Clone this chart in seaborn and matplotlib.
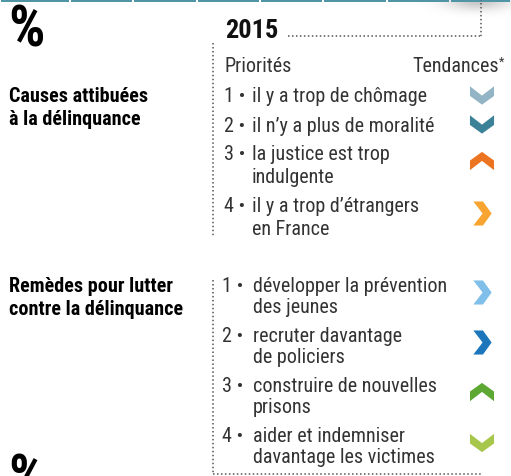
import numpy as np
import pandas as pd
import seaborn as sns
import matplotlib.pyplot as plt
from matplotlib import font_manager

# =========================
# DONNEES
# =========================
annee = "2015"

titre_causes = "Causes attibuées\nà la délinquance"
causes = ["il y a trop de chômage",
          "il n’y a plus de moralité",
          "la justice est trop\nindulgente",
          "il y a trop d’étrangers\nen France"]
tendances_causes = ["bas", "bas", "haut", "droite"]
couleurs_causes = ["#93b4c4", "#3b8298", "#ec7420", "#f8a431"]

titre_remedes = "Remèdes pour lutter\ncontre la délinquance"
remedes = ["développer la prévention\ndes jeunes",
           "recruter davantage\nde policiers",
           "construire de nouvelles\nprisons",
           "aider et indemniser\ndavantage les victimes"]
tendances_remedes = ["droite", "droite", "haut", "bas"]
couleurs_remedes = ["#80bfea", "#1c76bc", "#5ca833", "#a6c74b"]

# =========================
# STYLE / POLICE
# =========================
sns.set_style("white")

noms = {f.name for f in font_manager.fontManager.ttflist}
etroite = "Roboto Condensed" if "Roboto Condensed" in noms else "Liberation Sans"
plt.rcParams['font.family'] = [etroite, 'DejaVu Sans']

fig = plt.figure(figsize=(5.11, 4.77), dpi=100)
ax = fig.add_axes([0, 0, 1, 1])

texte = "#333333"
pointille = dict(color="#555555", linewidth=1.1, linestyle=(0, (1, 1.6)))

# ombre en haut a droite
gx, gy = np.meshgrid(np.linspace(400, 511, 120), np.linspace(0, 30, 40))
ombre = np.zeros(gx.shape + (4,))
ombre[..., 3] = 0.22 * np.exp(-((gx - 478) / 32) ** 2 - ((gy - 2) / 9) ** 2)
ax.imshow(ombre, extent=[400, 511, 30, 0], aspect='auto', zorder=0)

# bandeau du haut
coupures = [0, 70, 133, 197, 260, 323, 387, 450, 511]
for a, b in zip(coupures[:-1], coupures[1:]):
    ax.fill_between([a + 1, b - 1], 0, 2.5, color="#4f95a5", lw=0, zorder=1)

# =========================
# TEXTES FIXES
# =========================
ax.text(8, 31, "%", fontsize=41, fontweight='bold', va='center', color="black")
ax.text(8, 453, "%", fontsize=41, fontweight='bold', va='top', color="black")
ax.text(225, 31, annee, fontsize=19, fontweight='bold', va='center', color="#111111")
ax.text(225, 67, "Priorités", fontsize=14.5, va='center', color=texte)
ax.text(499, 67, "Tendances", fontsize=14.5, va='center', ha='right', color=texte)
ax.text(499, 62, "*", fontsize=9, va='center', ha='left', color=texte)

ax.text(9, 108, titre_causes, fontsize=14.5, fontweight='bold', va='center',
        color="black", linespacing=1.25)
ax.text(9, 298, titre_remedes, fontsize=14.5, fontweight='bold', va='center',
        color="black", linespacing=1.25)

# pointilles
ax.plot([288, 481], [37, 37], **pointille)
ax.plot([481, 481], [0, 37], **pointille)
ax.plot([213, 213], [44, 238], **pointille)
ax.plot([213, 213], [281, 475], **pointille)
ax.plot([213, 481], [475, 475], **pointille)

# =========================
# LISTES + CHEVRONS
# =========================
lignes = []


def liste(items, tendances, couleurs, y0, interligne, ecart, x_num, x_txt):
    y = y0
    for i, (item, t, c) in enumerate(zip(items, tendances, couleurs)):
        morceaux = item.split("\n")
        ax.text(x_num, y, f"{i + 1} •", fontsize=14.5, va='center', color=texte)
        ys = []
        for j, m in enumerate(morceaux):
            ax.text(x_txt, y + j * interligne, m, fontsize=14.5, va='center', color=texte)
            ys.append(y + j * interligne)
        yc = ys[0] - 1 if len(ys) == 1 else sum(ys) / len(ys) - 4
        lignes.append({"item": item, "tendance": t, "couleur": c, "y": yc, "x": 482})
        y = ys[-1] + ecart


liste(causes, tendances_causes, couleurs_causes, 97, 23, 29, 224, 252)
liste(remedes, tendances_remedes, couleurs_remedes, 287, 21, 29, 222, 253)

df = pd.DataFrame(lignes)

bas = [(-1, 0.72), (0, -0.05), (1, 0.72), (1, -0.08), (0, -0.8), (-1, -0.08)]
formes = {
    "bas": bas,
    "haut": [(x, -y) for x, y in bas],
    "droite": [(-y, x) for x, y in bas],
}
sns.scatterplot(data=df, x="x", y="y", hue="item",
                palette=dict(zip(df["item"], df["couleur"])),
                style="tendance", markers=formes, s=300, linewidth=0,
                legend=False, ax=ax, zorder=3)
ax.set_xlim(0, 511)
ax.set_ylim(477, 0)
ax.axis('off')

plt.savefig("out.png", dpi=100)
